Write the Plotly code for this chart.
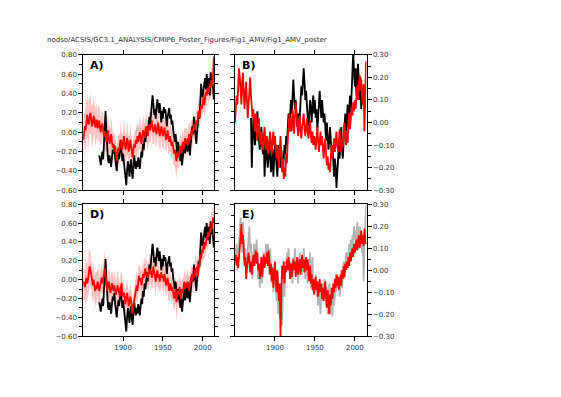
import plotly.graph_objects as go

years = list(range(1850, 2015))
obs_years = list(range(1870, 2015))
b_obs_years = list(range(1870, 2012))

# Panel A / D observed (black)
obs_amv = [
    -0.24, -0.30, -0.34, -0.26, -0.20, -0.28, -0.12, 0.06, 0.22, 0.00,
    -0.18, -0.28, -0.32, -0.24, -0.30, -0.36, -0.26, -0.18, -0.22, -0.14,
    -0.26, -0.34, -0.40, -0.30, -0.22, -0.28, -0.16, -0.08, -0.20, -0.30,
    -0.22, -0.32, -0.44, -0.50, -0.55, -0.40, -0.30, -0.36, -0.46, -0.34,
    -0.28, -0.42, -0.48, -0.36, -0.24, -0.32, -0.38, -0.30, -0.36, -0.26,
    -0.32, -0.38, -0.28, -0.20, -0.26, -0.12, -0.18, -0.04, -0.10, 0.02,
    0.06, -0.02, 0.10, 0.16, 0.08, 0.20, 0.28, 0.38, 0.30, 0.18,
    0.24, 0.14, 0.26, 0.34, 0.28, 0.20, 0.30, 0.16, 0.10, 0.22,
    0.14, 0.26, 0.20, 0.24, 0.10, 0.06, 0.16, 0.22, 0.25, 0.14,
    0.18, 0.08, 0.12, 0.02, -0.04, -0.10, -0.02, -0.14, -0.22, -0.10,
    -0.16, -0.24, -0.30, -0.20, -0.34, -0.26, -0.18, -0.10, -0.22, -0.08,
    -0.12, -0.20, -0.06, -0.16, -0.24, -0.12, -0.04, 0.06, -0.02, 0.16,
    0.06, -0.08, -0.12, 0.00, 0.10, 0.20, 0.14, 0.30, 0.50, 0.40,
    0.36, 0.44, 0.52, 0.56, 0.44, 0.60, 0.50, 0.42, 0.56, 0.38,
    0.62, 0.48, 0.56, 0.44, 0.34,
]

# Panel A model mean (red) and ensemble spread (pink band half-width)
a_model = [
    -0.08, -0.02, 0.06, 0.02, 0.12, 0.18, 0.10, 0.08, 0.16, 0.20,
    0.12, 0.06, 0.10, 0.17, 0.14, 0.05, 0.08, 0.13, 0.04, 0.09,
    0.12, 0.04, 0.00, 0.06, 0.09, 0.02, -0.04, 0.01, -0.06, -0.10,
    -0.03, 0.02, -0.06, -0.12, -0.08, -0.02, -0.10, -0.16, -0.12, -0.20,
    -0.14, -0.24, -0.30, -0.22, -0.16, -0.20, -0.12, -0.08, -0.14, -0.18,
    -0.10, -0.04, -0.12, -0.18, -0.14, -0.06, -0.10, -0.20, -0.16, -0.08,
    -0.14, -0.22, -0.26, -0.18, -0.12, -0.16, -0.08, -0.12, -0.04, -0.10,
    -0.06, 0.00, -0.08, -0.12, -0.04, 0.02, -0.02, -0.06, 0.03, 0.06,
    0.00, -0.04, 0.04, 0.08, 0.02, 0.06, 0.12, 0.05, 0.00, 0.04,
    0.08, 0.02, -0.02, 0.05, 0.10, 0.03, -0.04, 0.00, 0.06, 0.02,
    -0.04, 0.00, 0.05, -0.02, -0.08, -0.04, 0.02, -0.06, -0.10, -0.04,
    -0.08, -0.14, -0.10, -0.16, -0.22, -0.18, -0.26, -0.30, -0.24, -0.20,
    -0.26, -0.18, -0.14, -0.22, -0.16, -0.10, -0.18, -0.12, -0.06, -0.12,
    -0.08, -0.14, -0.06, -0.02, -0.08, -0.04, 0.02, -0.03, 0.04, 0.08,
    0.02, 0.06, 0.12, 0.08, 0.16, 0.22, 0.15, 0.20, 0.28, 0.24,
    0.30, 0.36, 0.28, 0.34, 0.42, 0.38, 0.46, 0.40, 0.44, 0.50,
    0.46, 0.54, 0.48, 0.58, 0.78,
]
a_spread = [
    0.16, 0.22, 0.14, 0.26, 0.18, 0.24, 0.15, 0.28, 0.17, 0.22,
    0.15, 0.24, 0.16, 0.21, 0.14, 0.22, 0.16, 0.19, 0.13, 0.20,
    0.14, 0.19, 0.13, 0.18, 0.12, 0.17, 0.14, 0.20, 0.13, 0.16,
    0.12, 0.18, 0.14, 0.17, 0.12, 0.19, 0.13, 0.16, 0.12, 0.18,
    0.13, 0.17, 0.12, 0.18, 0.14, 0.16, 0.12, 0.19, 0.13, 0.17,
    0.12, 0.18, 0.13, 0.16, 0.12, 0.17, 0.14, 0.16, 0.12, 0.18,
    0.13, 0.17, 0.12, 0.18, 0.13, 0.16, 0.12, 0.17, 0.14, 0.16,
    0.12, 0.17, 0.13, 0.16, 0.12, 0.18, 0.13, 0.15, 0.12, 0.17,
    0.13, 0.16, 0.12, 0.18, 0.13, 0.15, 0.12, 0.17, 0.13, 0.16,
    0.12, 0.17, 0.13, 0.15, 0.12, 0.18, 0.13, 0.16, 0.12, 0.15,
    0.13, 0.17, 0.12, 0.16, 0.13, 0.15, 0.12, 0.17, 0.13, 0.16,
    0.12, 0.15, 0.13, 0.17, 0.12, 0.16, 0.14, 0.18, 0.15, 0.16,
    0.12, 0.15, 0.13, 0.16, 0.12, 0.15, 0.13, 0.16, 0.12, 0.15,
    0.12, 0.14, 0.13, 0.15, 0.12, 0.14, 0.12, 0.15, 0.12, 0.14,
    0.11, 0.14, 0.12, 0.13, 0.11, 0.14, 0.12, 0.13, 0.11, 0.14,
    0.11, 0.13, 0.12, 0.14, 0.11, 0.13, 0.12, 0.14, 0.11, 0.13,
    0.12, 0.14, 0.11, 0.13, 0.12,
]

# Panel B observed (black) and model (red)
b_obs = [
    0.02, -0.20, -0.08, 0.02, -0.04, -0.10, -0.06, 0.00, 0.05, -0.04,
    -0.08, -0.12, -0.06, -0.02, -0.10, -0.14, -0.08, -0.24, -0.16, -0.10,
    -0.14, -0.20, -0.16, -0.10, -0.14, -0.22, -0.18, -0.12, -0.24, -0.16,
    -0.10, -0.14, -0.20, -0.24, -0.16, -0.10, -0.14, -0.20, -0.12, -0.16,
    -0.22, -0.16, -0.10, -0.14, -0.06, -0.10, -0.02, 0.04, -0.04, 0.06,
    0.10, 0.04, 0.14, 0.19, 0.12, 0.06, 0.10, 0.02, -0.02, 0.04,
    -0.04, 0.02, 0.10, 0.16, 0.12, 0.20, 0.24, 0.18, 0.10, 0.14,
    0.08, 0.02, -0.04, 0.04, 0.10, 0.06, 0.00, 0.08, 0.12, 0.04,
    0.10, 0.02, 0.06, -0.04, 0.02, 0.10, 0.14, 0.08, 0.02, 0.10,
    0.06, 0.00, 0.04, -0.02, -0.08, 0.00, -0.06, -0.12, -0.08, -0.02,
    -0.08, -0.14, -0.10, -0.18, -0.24, -0.16, -0.20, -0.29, -0.22, -0.14,
    -0.10, -0.16, -0.08, -0.02, -0.12, -0.16, -0.08, -0.02, 0.04, -0.04,
    0.02, 0.08, -0.02, 0.06, 0.12, 0.04, 0.14, 0.20, 0.32, 0.22,
    0.16, 0.24, 0.12, 0.20, 0.26, 0.18, 0.10, 0.20, 0.06, 0.14,
    0.08, 0.16,
]
b_model = [
    0.00, 0.06, 0.12, 0.08, 0.16, 0.24, 0.20, 0.14, 0.08, 0.18,
    0.22, 0.12, 0.06, 0.14, 0.18, 0.10, 0.02, 0.08, 0.16, 0.20,
    0.12, 0.08, 0.02, 0.06, 0.00, -0.04, 0.04, -0.02, -0.08, -0.02,
    0.02, -0.06, -0.10, -0.04, -0.08, -0.12, -0.06, -0.02, -0.08, -0.12,
    -0.06, -0.10, -0.14, -0.08, -0.04, -0.10, -0.14, -0.08, -0.04, -0.10,
    -0.06, -0.12, -0.16, -0.10, -0.14, -0.20, -0.12, -0.06, -0.14, -0.22,
    -0.16, -0.25, -0.20, -0.24, -0.14, -0.18, -0.08, -0.02, 0.04, -0.04,
    0.02, -0.04, 0.06, 0.02, -0.05, 0.02, 0.09, 0.04, -0.03, -0.06,
    0.00, 0.03, -0.04, -0.07, -0.02, 0.02, 0.04, -0.03, -0.06, -0.02,
    0.02, -0.04, -0.07, -0.02, 0.01, -0.06, -0.09, -0.04, -0.10, -0.06,
    -0.08, -0.12, -0.06, -0.02, -0.08, -0.13, -0.09, -0.04, -0.10, -0.06,
    -0.12, -0.16, -0.10, -0.07, -0.14, -0.19, -0.15, -0.21, -0.18, -0.22,
    -0.15, -0.10, -0.16, -0.12, -0.07, -0.13, -0.09, -0.04, -0.10, -0.13,
    -0.08, -0.03, -0.09, -0.13, -0.07, -0.11, -0.04, 0.00, -0.06, -0.10,
    -0.04, -0.09, 0.00, 0.04, -0.03, 0.02, 0.07, 0.03, 0.09, 0.05,
    0.10, 0.06, 0.12, 0.16, 0.10, 0.18, 0.21, 0.14, 0.19, 0.12,
    0.08, 0.17, -0.04, 0.10, 0.27,
]

# Panel D model mean (red) and ensemble spread
d_model = [
    -0.06, -0.02, -0.08, -0.04, 0.02, -0.04, 0.00, 0.08, 0.14, 0.10,
    0.04, -0.02, -0.06, 0.00, -0.08, -0.12, -0.06, -0.10, -0.02, -0.06,
    -0.12, -0.08, -0.02, 0.02, -0.04, 0.00, 0.06, 0.12, 0.04, -0.06,
    -0.12, -0.08, -0.02, -0.08, -0.14, -0.10, -0.04, -0.08, -0.12, -0.06,
    -0.10, -0.16, -0.12, -0.06, -0.10, -0.14, -0.18, -0.10, -0.04, -0.12,
    -0.18, -0.14, -0.22, -0.26, -0.18, -0.14, -0.20, -0.28, -0.24, -0.18,
    -0.22, -0.30, -0.36, -0.28, -0.22, -0.16, -0.10, -0.06, -0.12, -0.02,
    0.04, -0.02, 0.02, -0.06, -0.02, 0.06, 0.02, 0.08, 0.12, 0.04,
    0.08, 0.02, 0.06, 0.12, 0.06, 0.10, 0.02, 0.06, 0.14, 0.08,
    0.04, -0.02, 0.06, 0.10, 0.02, 0.06, -0.02, 0.02, 0.08, 0.02,
    0.04, -0.02, 0.06, 0.00, -0.06, -0.02, 0.02, -0.06, -0.12, -0.04,
    -0.06, -0.12, -0.08, -0.14, -0.20, -0.16, -0.10, -0.24, -0.18, -0.12,
    -0.16, -0.08, -0.14, -0.20, -0.10, -0.14, -0.08, -0.02, -0.10, -0.04,
    -0.08, -0.02, -0.06, -0.12, -0.04, 0.00, 0.04, -0.02, 0.06, 0.02,
    0.08, 0.12, 0.06, 0.14, 0.04, 0.12, 0.20, 0.26, 0.22, 0.32,
    0.28, 0.36, 0.32, 0.40, 0.36, 0.46, 0.42, 0.50, 0.46, 0.54,
    0.50, 0.60, 0.54, 0.66, 0.60,
]
d_spread = [
    0.15, 0.20, 0.13, 0.24, 0.16, 0.22, 0.14, 0.25, 0.16, 0.20,
    0.14, 0.22, 0.15, 0.19, 0.13, 0.20, 0.15, 0.18, 0.12, 0.19,
    0.13, 0.18, 0.12, 0.17, 0.12, 0.16, 0.13, 0.19, 0.12, 0.15,
    0.12, 0.17, 0.13, 0.16, 0.12, 0.18, 0.12, 0.15, 0.12, 0.17,
    0.12, 0.16, 0.12, 0.17, 0.13, 0.15, 0.12, 0.18, 0.12, 0.16,
    0.12, 0.17, 0.12, 0.15, 0.12, 0.16, 0.13, 0.15, 0.12, 0.17,
    0.12, 0.16, 0.12, 0.17, 0.12, 0.15, 0.12, 0.16, 0.13, 0.15,
    0.12, 0.16, 0.12, 0.15, 0.12, 0.17, 0.12, 0.14, 0.12, 0.16,
    0.12, 0.15, 0.12, 0.17, 0.12, 0.14, 0.12, 0.16, 0.12, 0.15,
    0.12, 0.16, 0.12, 0.14, 0.12, 0.17, 0.12, 0.15, 0.12, 0.14,
    0.12, 0.16, 0.12, 0.15, 0.12, 0.14, 0.12, 0.16, 0.12, 0.15,
    0.12, 0.14, 0.12, 0.16, 0.12, 0.15, 0.14, 0.20, 0.15, 0.15,
    0.12, 0.14, 0.12, 0.15, 0.12, 0.14, 0.12, 0.15, 0.12, 0.14,
    0.11, 0.14, 0.12, 0.14, 0.11, 0.13, 0.12, 0.14, 0.11, 0.13,
    0.11, 0.13, 0.12, 0.13, 0.11, 0.13, 0.12, 0.13, 0.11, 0.13,
    0.11, 0.13, 0.11, 0.13, 0.11, 0.12, 0.11, 0.13, 0.11, 0.12,
    0.11, 0.13, 0.11, 0.12, 0.11,
]

# Panel E observed (grey) and model (red)
e_obs = [
    0.10, 0.04, 0.12, 0.00, 0.06, 0.14, 0.18, 0.24, 0.16, 0.08,
    0.22, 0.14, 0.04, 0.10, -0.02, 0.04, 0.10, 0.16, 0.20, 0.08,
    0.12, 0.02, -0.04, 0.06, 0.12, 0.02, 0.08, 0.14, 0.06, -0.04,
    0.02, -0.08, -0.02, 0.06, -0.06, 0.00, 0.08, 0.02, 0.06, 0.12,
    0.04, 0.12, 0.06, -0.02, 0.10, 0.02, -0.06, 0.02, -0.10, -0.04,
    0.02, -0.06, -0.14, -0.08, -0.20, -0.14, -0.22, -0.12, -0.18, -0.25,
    -0.08, 0.00, -0.12, 0.04, 0.00, 0.08, 0.02, 0.10, 0.04, -0.04,
    0.04, -0.02, -0.06, 0.06, 0.02, 0.10, 0.00, 0.06, 0.02, -0.06,
    0.02, 0.08, 0.02, 0.06, -0.02, 0.04, 0.10, 0.04, -0.04, 0.06,
    0.02, -0.06, 0.04, -0.02, 0.08, -0.08, -0.02, 0.06, -0.10, -0.06,
    -0.10, -0.02, -0.12, -0.06, -0.16, -0.08, -0.12, -0.20, -0.10, -0.14,
    -0.06, -0.12, -0.04, -0.10, -0.16, -0.08, -0.20, -0.14, -0.06, -0.12,
    -0.20, -0.12, -0.21, -0.10, -0.16, -0.12, -0.06, -0.10, -0.02, -0.08,
    -0.04, -0.12, -0.06, 0.00, -0.08, -0.02, 0.04, -0.04, 0.02, 0.08,
    0.02, 0.08, 0.04, 0.12, 0.06, 0.14, 0.08, 0.16, 0.10, 0.20,
    0.14, 0.18, 0.10, 0.22, 0.16, 0.12, 0.20, 0.14, 0.18, 0.08,
    0.14, -0.05, 0.10, 0.24, 0.30,
]
e_model = [
    0.04, 0.07, 0.02, 0.06, 0.01, 0.05, 0.10, 0.15, 0.21, 0.12,
    0.16, 0.08, 0.02, 0.06, -0.04, 0.01, 0.04, 0.08, 0.05, -0.01,
    0.04, -0.02, 0.03, 0.07, 0.02, 0.05, 0.09, 0.03, 0.08, 0.00,
    0.03, -0.04, 0.02, 0.06, -0.03, 0.02, 0.07, 0.01, 0.06, 0.03,
    0.08, 0.02, 0.09, 0.04, -0.02, 0.03, -0.05, 0.01, -0.08, -0.02,
    0.04, -0.04, -0.10, 0.00, -0.08, -0.14, -0.06, -0.30, -0.10, 0.02,
    -0.04, 0.04, -0.06, 0.02, -0.01, 0.05, 0.00, 0.06, 0.02, -0.04,
    0.03, -0.03, 0.01, 0.05, 0.00, 0.04, -0.03, 0.02, 0.06, -0.02,
    0.01, 0.05, -0.02, 0.03, 0.07, 0.01, 0.05, -0.01, 0.02, 0.06,
    0.00, 0.05, -0.02, -0.05, 0.02, -0.06, -0.02, -0.09, -0.04, -0.11,
    -0.06, -0.03, -0.09, -0.05, -0.12, -0.07, -0.04, -0.10, -0.06, -0.13,
    -0.08, -0.14, -0.09, -0.05, -0.12, -0.17, -0.09, -0.14, -0.20, -0.11,
    -0.16, -0.08, -0.13, -0.06, -0.10, -0.04, -0.08, -0.02, -0.07, -0.03,
    -0.09, -0.05, -0.02, -0.07, 0.00, -0.04, 0.02, -0.03, 0.03, 0.00,
    0.04, 0.01, 0.06, 0.02, 0.08, 0.04, 0.07, 0.10, 0.06, 0.12,
    0.08, 0.11, 0.14, 0.09, 0.13, 0.16, 0.10, 0.14, 0.18, 0.12,
    0.16, 0.11, 0.19, 0.14, 0.12,
]

panel_labels = ["A)", "B)", "D)", "E)"]
x_ticks = [1900, 1950, 2000]
path_title = "nodso/ACSIS/GC3.1_ANALYSIS/CMIP6_Poster_Figures/Fig1_AMV/Fig1_AMV_poster"

# The page body adds an 8px margin, so the figure is shifted by OFF px.
OFF = 8
W, H = 561 - OFF, 397 - OFF
RED = "#ff0000"
PINK = "#ffc0c0"


def px_dom(a, b):
    return [(a - OFF) / W, (b - OFF) / W]


def py_dom(top, bottom):
    return [1 - (bottom - OFF) / H, 1 - (top - OFF) / H]


fig = go.Figure()


def add_band(xa, ya, model, spread):
    lo = [m - s for m, s in zip(model, spread)]
    hi = [m + s for m, s in zip(model, spread)]
    fig.add_trace(go.Scatter(x=years, y=lo, xaxis=xa, yaxis=ya, mode="lines",
                             line=dict(width=0, color=PINK), hoverinfo="skip",
                             showlegend=False))
    fig.add_trace(go.Scatter(x=years, y=hi, xaxis=xa, yaxis=ya, mode="lines",
                             line=dict(width=0, color=PINK), fill="tonexty",
                             fillcolor=PINK, hoverinfo="skip", showlegend=False))


def add_line(xa, ya, xs, ys, color, width=1.8):
    fig.add_trace(go.Scatter(x=xs, y=ys, xaxis=xa, yaxis=ya, mode="lines",
                             line=dict(color=color, width=width),
                             showlegend=False))


# Panel A
add_band("x", "y", a_model, a_spread)
add_line("x", "y", obs_years, obs_amv, "#000000")
add_line("x", "y", years, a_model, RED)
# Panel B
add_line("x2", "y2", b_obs_years, b_obs, "#000000")
add_line("x2", "y2", years, b_model, RED)
# Panel D
add_band("x3", "y3", d_model, d_spread)
add_line("x3", "y3", obs_years, obs_amv, "#000000")
add_line("x3", "y3", years, d_model, RED)
# Panel E
add_line("x4", "y4", years, e_obs, "#b4b4b4")
add_line("x4", "y4", years, e_model, RED)

tickfont = dict(family="DejaVu Sans", size=7, color="#333333")
xr = [1850, 2014.6]


def xaxis(dom, anchor, labels):
    return dict(domain=dom, anchor=anchor, range=xr, tickvals=x_ticks,
                showticklabels=labels, ticks="outside", ticklen=4, tickwidth=1,
                tickcolor="black", mirror="allticks", showline=True,
                linecolor="black", linewidth=1, showgrid=False, zeroline=False,
                tickfont=tickfont)


def yaxis(dom, anchor, rng, dt, mdt, side):
    return dict(domain=dom, anchor=anchor, range=rng, dtick=dt, tick0=0,
                tickformat=".2f", side=side, ticks="outside", ticklen=4,
                tickwidth=1, tickcolor="black", mirror="allticks",
                showline=True, linecolor="black", linewidth=1,
                showgrid=False, zeroline=False, tickfont=tickfont,
                minor=dict(dtick=mdt, tick0=0, ticks="outside", ticklen=3,
                           tickcolor="black", showgrid=False))


xl = px_dom(83.3, 214.3)
xr2 = px_dom(235, 366.5)
ytop = py_dom(51.7, 190)
ybot = py_dom(204.3, 339)

fig.update_layout(
    width=W, height=H, margin=dict(l=0, r=0, t=0, b=0),
    paper_bgcolor="white", plot_bgcolor="white", showlegend=False,
    xaxis=xaxis(xl, "y", False),
    yaxis=yaxis(ytop, "x", [-0.6, 0.8], 0.2, 0.1, "left"),
    xaxis2=xaxis(xr2, "y2", False),
    yaxis2=yaxis(ytop, "x2", [-0.3, 0.3], 0.1, 0.05, "right"),
    xaxis3=xaxis(xl, "y3", True),
    yaxis3=yaxis(ybot, "x3", [-0.6, 0.8], 0.2, 0.1, "left"),
    xaxis4=xaxis(xr2, "y4", True),
    yaxis4=yaxis(ybot, "x4", [-0.3, 0.3], 0.1, 0.05, "right"),
)

# Panel labels
for lab, xa, ya in zip(panel_labels, ["x", "x2", "x3", "x4"], ["y", "y2", "y3", "y4"]):
    fig.add_annotation(text="<b>%s</b>" % lab, xref="%s domain" % xa,
                       yref="%s domain" % ya, x=0.035, y=0.985, xanchor="left",
                       yanchor="top", showarrow=False,
                       font=dict(family="DejaVu Sans", size=11, color="black"))

fig.add_annotation(text=path_title, xref="paper", yref="paper",
                   x=(45 - OFF) / W, y=1 - (37 - OFF) / H, xanchor="left",
                   yanchor="middle", showarrow=False,
                   font=dict(family="DejaVu Sans", size=7, color="#333333"))

fig.write_html("out.html")
